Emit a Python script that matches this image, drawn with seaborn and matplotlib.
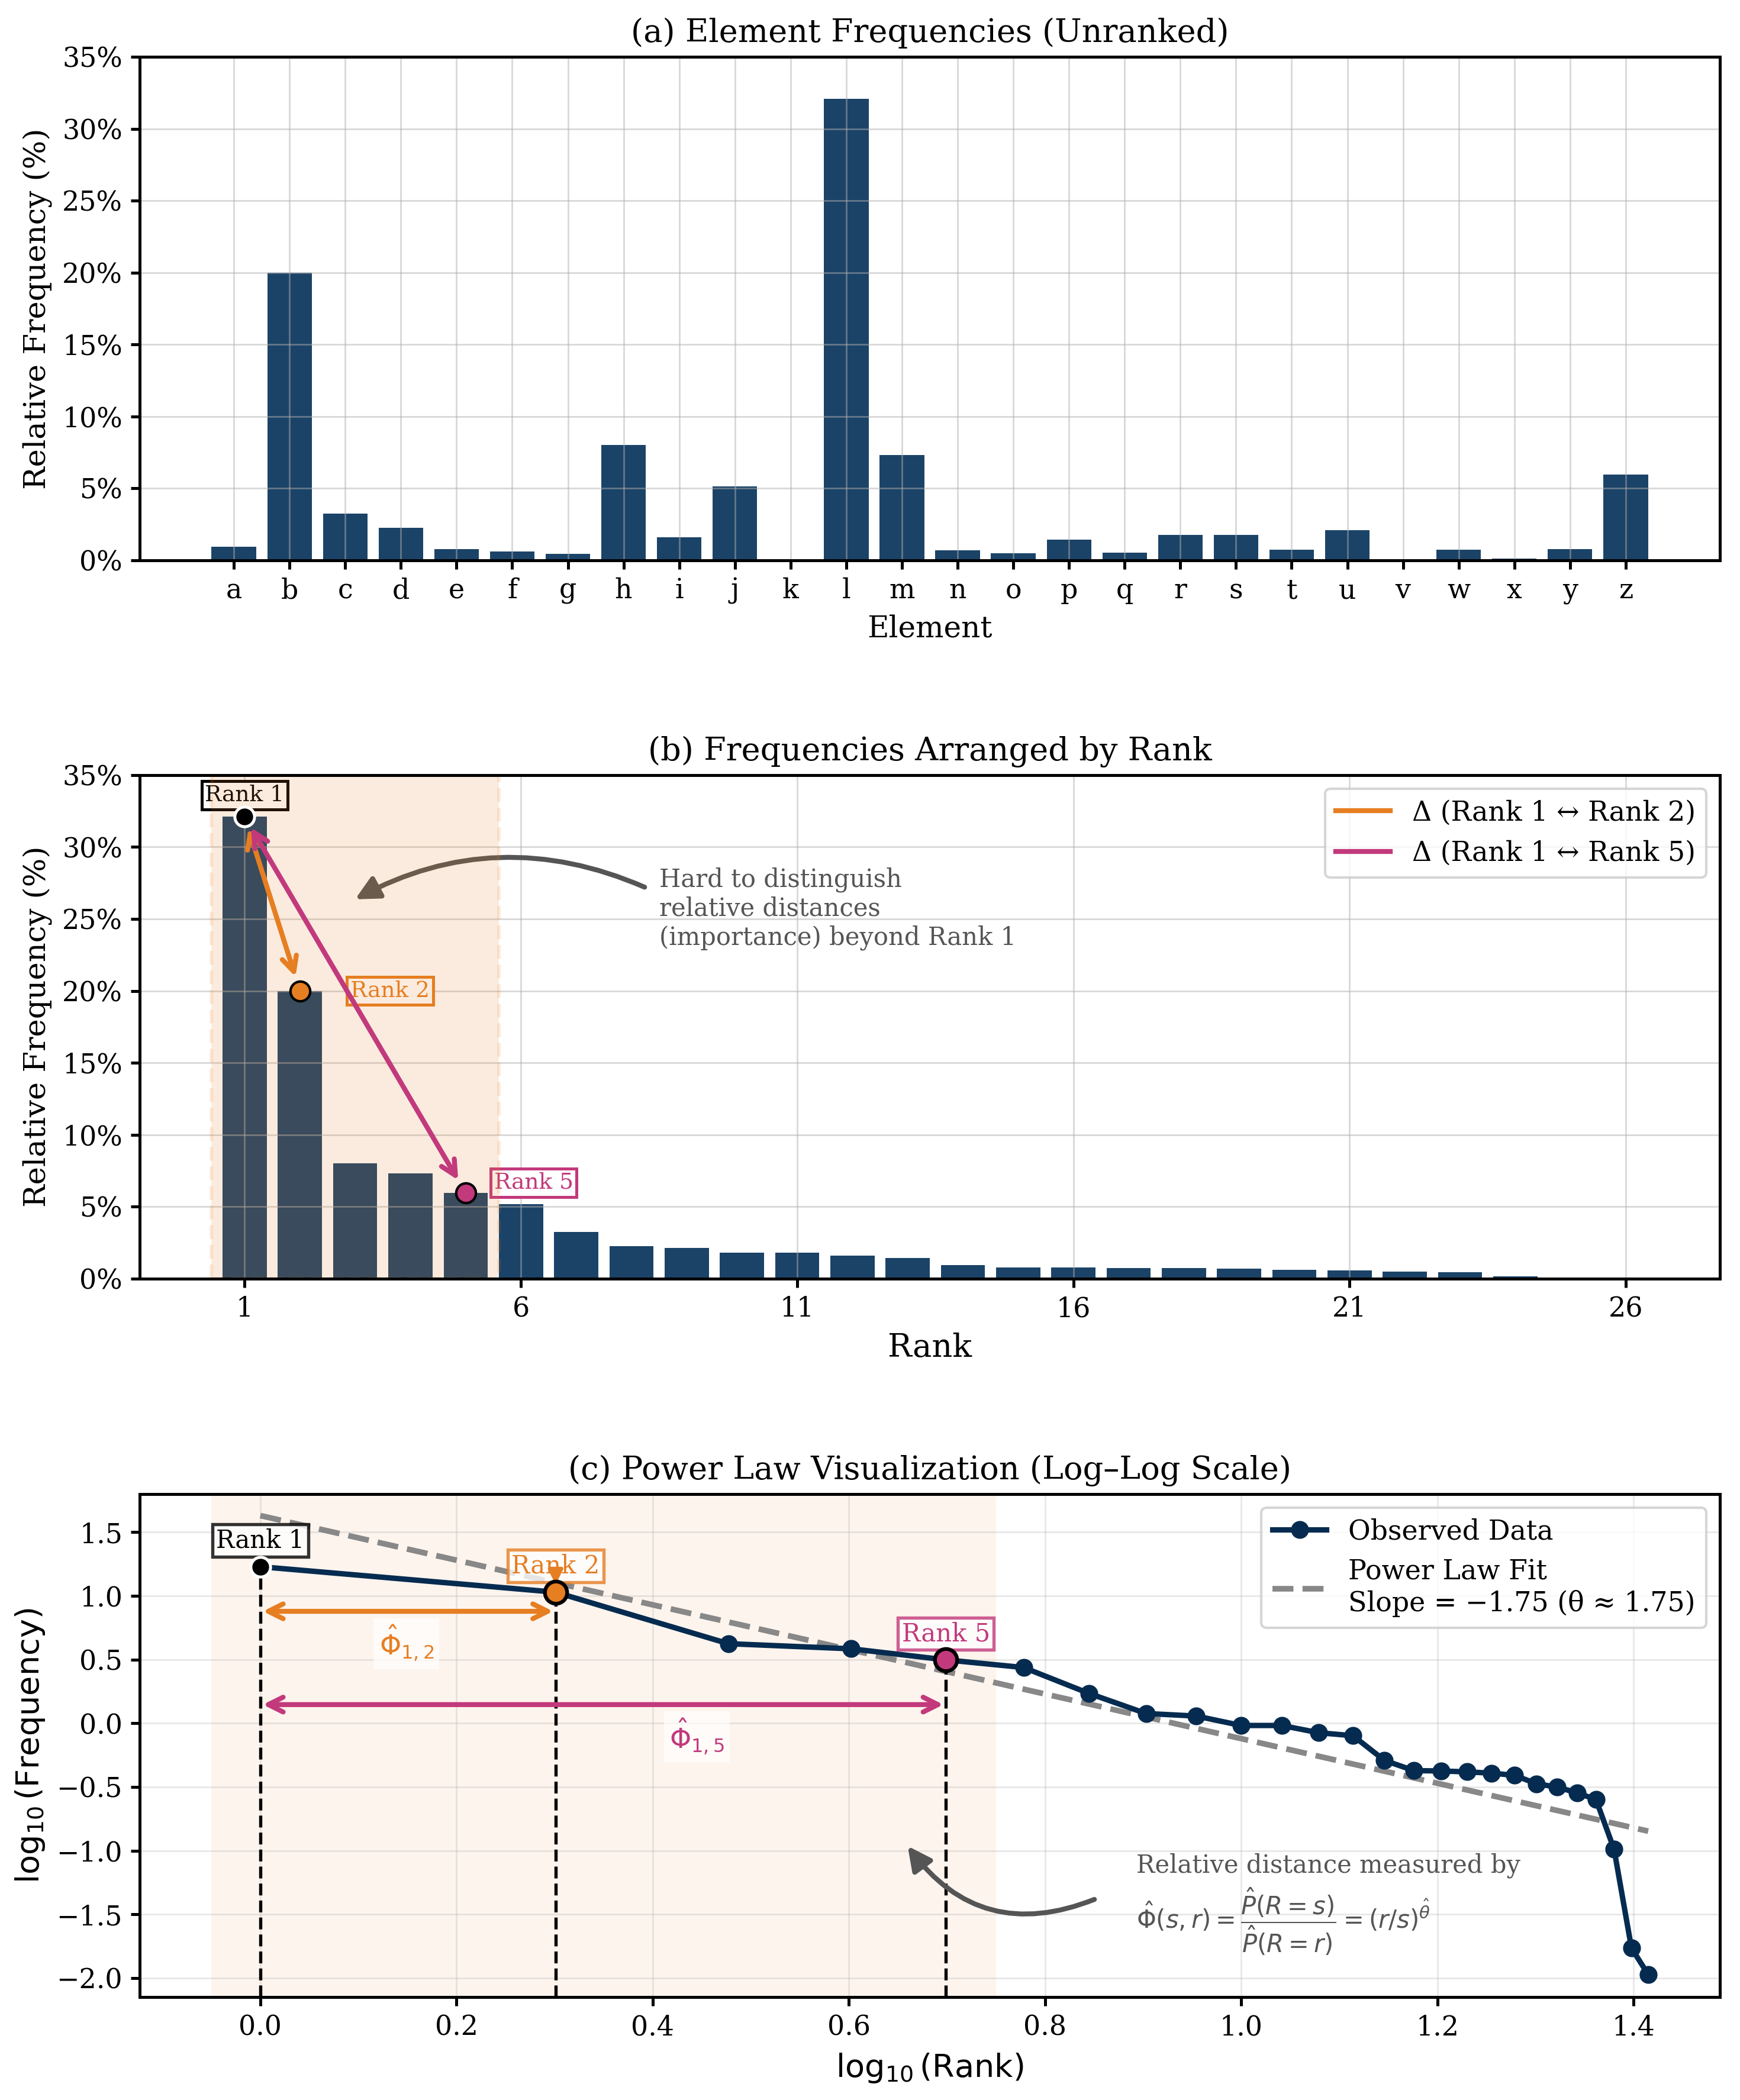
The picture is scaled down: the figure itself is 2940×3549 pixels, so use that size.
import numpy as np
import pandas as pd
import matplotlib
matplotlib.use("Agg")
import matplotlib.pyplot as plt
import seaborn as sns
from matplotlib.lines import Line2D
from matplotlib.ticker import FuncFormatter
from matplotlib.colors import to_rgb

# ---------------- data ----------------
elements = list("abcdefghijklmnopqrstuvwxyz")
freq_pct = [0.94, 20.0, 3.24, 2.25, 0.77, 0.60, 0.45, 8.0, 1.58, 5.15, 0.02, 32.1, 7.32,
            0.69, 0.48, 1.44, 0.55, 1.78, 1.78, 0.73, 2.11, 0.03, 0.73, 0.13, 0.77, 5.95]

ranks = list(range(1, 27))
rank_ticks = [1, 6, 11, 16, 21, 26]
log_freq = [1.229, 1.029, 0.625, 0.585, 0.498, 0.438, 0.234, 0.077, 0.057, -0.017,
            -0.017, -0.074, -0.097, -0.291, -0.371, -0.374, -0.381, -0.391, -0.408,
            -0.474, -0.501, -0.545, -0.598, -0.989, -1.764, -1.971]
fit_slope = -1.75
fit_intercept = 1.63
highlight_ranks = [1, 2, 5]

# ---------------- style ----------------
NAVY = "#1b4367"
LINE_NAVY = "#062b50"
ORANGE = "#e67e22"
MAGENTA = "#c2397c"
GRAY = "#555555"

plt.rcParams["font.family"] = ["DejaVu Serif", "DejaVu Sans"]
plt.rcParams["mathtext.fontset"] = "dejavusans"
plt.rcParams["axes.linewidth"] = 1.2
plt.rcParams["xtick.major.width"] = 1.2
plt.rcParams["ytick.major.width"] = 1.2
plt.rcParams["xtick.labelsize"] = 11
plt.rcParams["ytick.labelsize"] = 11
plt.rcParams["axes.axisbelow"] = "line"

fig = plt.figure(figsize=(9.8, 11.83), dpi=300)
L, W, H = 0.0803, 0.9081, 0.2397
ax1 = fig.add_axes([L, 0.7332, W, H])
ax2 = fig.add_axes([L, 0.3912, W, H])
ax3 = fig.add_axes([L, 0.0489, W, H])

pct_fmt = FuncFormatter(lambda v, p: f"{v:.0f}%")
GRID_KW = dict(color="#b0b0b0", alpha=0.5, lw=0.65)

# ---------------- (a) ----------------
df_a = pd.DataFrame({"Element": elements, "Freq": freq_pct})
sns.barplot(data=df_a, x="Element", y="Freq", color=NAVY, saturation=1, width=0.8,
            edgecolor=NAVY, linewidth=0, ax=ax1)
ax1.set_xlim(-1.69, 26.69)
ax1.set_ylim(0, 35)
ax1.yaxis.set_major_formatter(pct_fmt)
ax1.grid(True, **GRID_KW)
ax1.set_title("(a) Element Frequencies (Unranked)", fontsize=13)
ax1.set_xlabel("Element", fontsize=12)
ax1.set_ylabel("Relative Frequency (%)", fontsize=12.3)

# ---------------- (b) ----------------
order = np.argsort(-np.array(freq_pct), kind="stable")
ranked = np.array(freq_pct)[order]
rank_lbl = [str(r) for r in ranks]
df_b = pd.DataFrame({"Rank": rank_lbl, "Freq": ranked})
sns.barplot(data=df_b, x="Rank", y="Freq", order=rank_lbl, color=NAVY, saturation=1,
            width=0.8, edgecolor=NAVY, linewidth=0, ax=ax2)
ax2.set_xticks([r - 1 for r in rank_ticks])
ax2.set_xticklabels([str(r) for r in rank_ticks])
ax2.set_xlim(-1.9, 26.7)
ax2.set_ylim(0, 35)
ax2.yaxis.set_major_formatter(pct_fmt)
ax2.grid(True, **GRID_KW)
ax2.set_title("(b) Frequencies Arranged by Rank", fontsize=13)
ax2.set_xlabel("Rank", fontsize=13)
ax2.set_ylabel("Relative Frequency (%)", fontsize=12.3)

orc = to_rgb(ORANGE)
ax2.axvspan(-0.6, 4.6, facecolor=(*orc, 0.15), edgecolor=(*orc, 0.14), ls="--", lw=1.5,
            zorder=2.5)

x1, x2, x5 = 0, 1, 4
y1, y2, y5 = ranked[0], ranked[1], ranked[4]
ax2.text(x1, 33.6, "Rank 1", ha="center", va="center", fontsize=9, color="black", zorder=2,
         bbox=dict(boxstyle="square,pad=0.15", fc="white", ec="black", lw=1.2))
ax2.text(2.63, 20.0, "Rank 2", ha="center", va="center", fontsize=9, color=ORANGE, zorder=2,
         bbox=dict(boxstyle="square,pad=0.15", fc="white", ec=ORANGE, lw=1.2))
ax2.text(5.23, 6.65, "Rank 5", ha="center", va="center", fontsize=9, color=MAGENTA, zorder=2,
         bbox=dict(boxstyle="square,pad=0.15", fc="white", ec=MAGENTA, lw=1.2))

ax2.annotate("", xy=(x2, y2), xytext=(x1, y1), zorder=4,
             arrowprops=dict(arrowstyle="<->", color=ORANGE, lw=2, shrinkA=5, shrinkB=6,
                             mutation_scale=15))
ax2.annotate("", xy=(x5, y5), xytext=(x1, y1), zorder=4,
             arrowprops=dict(arrowstyle="<->", color=MAGENTA, lw=2, shrinkA=5, shrinkB=6,
                             mutation_scale=15))
ax2.plot([x1], [y1], "o", ms=8, color="black", mec="white", mew=1.2, zorder=5)
ax2.plot([x2], [y2], "o", ms=8, color=ORANGE, mec="black", mew=1.0, zorder=5)
ax2.plot([x5], [y5], "o", ms=8, color=MAGENTA, mec="black", mew=1.0, zorder=5)

ax2.annotate("", xy=(1.92, 26.2), xytext=(7.32, 27.07), zorder=2,
             arrowprops=dict(arrowstyle="-|>", color=GRAY, lw=2,
                             connectionstyle="arc3,rad=0.25", mutation_scale=20))
ax2.text(7.5, 25.7, "Hard to distinguish\nrelative distances\n(importance) beyond Rank 1",
         ha="left", va="center", fontsize=10, color=GRAY)

leg_b = [Line2D([0], [0], color=ORANGE, lw=2, label="\u0394 (Rank 1 \u2194 Rank 2)"),
         Line2D([0], [0], color=MAGENTA, lw=2, label="\u0394 (Rank 1 \u2194 Rank 5)")]
ax2.legend(handles=leg_b, loc="upper right", fontsize=11)

# ---------------- (c) ----------------
log_rank = np.log10(ranks)
df_c = pd.DataFrame({"log_rank": log_rank, "log_freq": log_freq})
ax3.axvspan(-0.05, 0.75, color=ORANGE, alpha=0.08, lw=0, zorder=0)
sns.lineplot(data=df_c, x="log_rank", y="log_freq", ax=ax3, color=LINE_NAVY, lw=2.2,
             marker="o", markersize=6.5, markeredgecolor=LINE_NAVY, label="Observed Data",
             zorder=3)
fit_x = np.array([log_rank[0], log_rank[-1]])
ax3.plot(fit_x, fit_intercept + fit_slope * fit_x, ls="--", color="#888888", lw=2.3,
         label="Power Law Fit\nSlope = \u22121.75 (\u03b8 \u2248 1.75)", zorder=2)

ax3.set_xlim(-0.123, 1.488)
ax3.set_ylim(-2.15, 1.80)
ax3.grid(True, color="#b0b0b0", alpha=0.3, lw=0.65)

for r in highlight_ranks:
    ax3.vlines(log_rank[r - 1], -2.15, log_freq[r - 1], colors="black", linestyles="--",
               lw=1.3, zorder=2.5)

lab_cols = {1: "black", 2: ORANGE, 5: MAGENTA}
for r in highlight_ranks:
    ax3.text(log_rank[r - 1], log_freq[r - 1] + 0.205, f"Rank {r}", ha="center", va="center",
             fontsize=10, color=lab_cols[r], zorder=4,
             bbox=dict(boxstyle="square,pad=0.15", fc="white", ec=lab_cols[r], lw=1.3, alpha=0.8))
ax3.annotate("", xy=(log_rank[1], log_freq[1] + 0.06), xytext=(log_rank[1], log_freq[1] + 0.17),
             zorder=5, arrowprops=dict(arrowstyle="-|>", color=ORANGE, lw=1.5, mutation_scale=12,
                                       shrinkA=0, shrinkB=0))
ax3.plot([log_rank[0]], [log_freq[0]], "o", ms=8, color="black", mec="white", mew=1.2, zorder=6)
ax3.plot([log_rank[1]], [log_freq[1]], "o", ms=9, color=ORANGE, mec="black", mew=1.5, zorder=6)
ax3.plot([log_rank[4]], [log_freq[4]], "o", ms=9, color=MAGENTA, mec="black", mew=1.5, zorder=6)

ax3.annotate("", xy=(log_rank[1], 0.879), xytext=(log_rank[0], 0.879), zorder=4,
             arrowprops=dict(arrowstyle="<->", color=ORANGE, lw=2, mutation_scale=15,
                             shrinkA=1, shrinkB=1))
ax3.annotate("", xy=(log_rank[4], 0.147), xytext=(log_rank[0], 0.147), zorder=4,
             arrowprops=dict(arrowstyle="<->", color=MAGENTA, lw=2, mutation_scale=15,
                             shrinkA=1, shrinkB=1))
ax3.text(0.149, 0.625, r"$\hat{\Phi}_{1,2}$", color=ORANGE, fontsize=11, ha="center",
         va="center", zorder=4, bbox=dict(boxstyle="square,pad=0.2", fc="white", ec="none", alpha=0.7))
ax3.text(0.445, -0.105, r"$\hat{\Phi}_{1,5}$", color=MAGENTA, fontsize=11, ha="center",
         va="center", zorder=4, bbox=dict(boxstyle="square,pad=0.2", fc="white", ec="none", alpha=0.7))

ax3.annotate("", xy=(0.657, -0.932), xytext=(0.855, -1.367), zorder=4,
             arrowprops=dict(arrowstyle="-|>", color=GRAY, lw=2,
                             connectionstyle="arc3,rad=-0.4", mutation_scale=20))
ax3.text(0.893, -1.116, "Relative distance measured by", ha="left", va="center",
         fontsize=10, color=GRAY)
ax3.text(0.893, -1.557,
         r"$\hat{\Phi}(s,r)=\dfrac{\hat{P}(R=s)}{\hat{P}(R=r)}=(r/s)^{\hat{\theta}}$",
         ha="left", va="center", fontsize=10, color=GRAY)

ax3.legend(loc="upper right", fontsize=11)
ax3.set_title("(c) Power Law Visualization (Log\u2013Log Scale)", fontsize=13)
ax3.set_xlabel(r"$\log_{10}(\mathrm{Rank})$", fontsize=13)
ax3.set_ylabel(r"$\log_{10}(\mathrm{Frequency})$", fontsize=13)

fig.savefig("out.png", dpi=300)
